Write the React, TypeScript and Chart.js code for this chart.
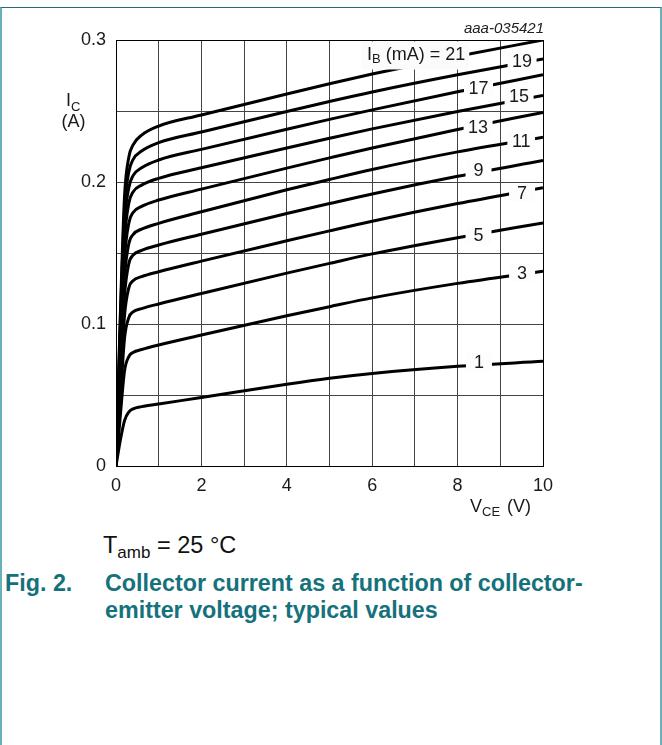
import React, { useEffect, useRef } from "react";
import { Chart, registerables } from "chart.js";

Chart.register(...registerables);

// ---- data ----
const VCE = [0, 0.1, 0.2, 0.3, 0.4, 0.6, 1, 2, 4, 5, 6, 8, 10];

const IC_IB1 = [0, 0.018, 0.032, 0.038, 0.0402, 0.0418, 0.0437, 0.0482, 0.0576, 0.0618, 0.0652, 0.0702, 0.0737];
const IC_IB3 = [0, 0.035, 0.067, 0.077, 0.08, 0.082, 0.0852, 0.0922, 0.1058, 0.1122, 0.1184, 0.1286, 0.1372];
const IC_IB5 = [0, 0.046, 0.09, 0.1045, 0.1085, 0.1108, 0.1141, 0.1215, 0.1358, 0.1427, 0.1494, 0.1608, 0.1712];
const IC_IB7 = [0, 0.055, 0.106, 0.1255, 0.1305, 0.1333, 0.1368, 0.1443, 0.1586, 0.1656, 0.1724, 0.1848, 0.196];
const IC_IB9 = [0, 0.062, 0.12, 0.1425, 0.1485, 0.1518, 0.1556, 0.1632, 0.1778, 0.1848, 0.1916, 0.204, 0.2152];
const IC_IB11 = [0, 0.07, 0.133, 0.1565, 0.163, 0.1668, 0.1709, 0.179, 0.1945, 0.2018, 0.2088, 0.2212, 0.2315];
const IC_IB13 = [0, 0.077, 0.146, 0.171, 0.1785, 0.1828, 0.1873, 0.195, 0.2098, 0.217, 0.224, 0.237, 0.249];
const IC_IB15 = [0, 0.085, 0.159, 0.185, 0.193, 0.1978, 0.2026, 0.21, 0.224, 0.2308, 0.2374, 0.2496, 0.261];
const IC_IB17 = [0, 0.093, 0.171, 0.196, 0.2045, 0.21, 0.2155, 0.223, 0.2372, 0.2441, 0.2508, 0.2635, 0.2755];
const IC_IB19 = [0, 0.1, 0.181, 0.207, 0.2158, 0.2218, 0.2277, 0.2352, 0.2497, 0.2567, 0.2634, 0.2755, 0.2866];
const IC_IB21 = [0, 0.105, 0.19, 0.2175, 0.2262, 0.233, 0.2394, 0.2472, 0.262, 0.2692, 0.276, 0.2885, 0.3];

const SERIES = [IC_IB1, IC_IB3, IC_IB5, IC_IB7, IC_IB9, IC_IB11, IC_IB13, IC_IB15, IC_IB17, IC_IB19, IC_IB21];
const SERIES_NAMES = ["1", "3", "5", "7", "9", "11", "13", "15", "17", "19", "21"];

// curve labels (text centre in data coordinates)
const LABEL_TEXT = ["1", "3", "5", "7", "9", "11", "13", "15", "17", "19"];
const LABEL_V = [8.5, 9.51, 8.49, 9.51, 8.49, 9.49, 8.48, 9.44, 8.49, 9.51];
const LABEL_I = [0.0732, 0.1359, 0.1627, 0.1923, 0.2085, 0.2289, 0.2387, 0.2606, 0.2662, 0.2852];
const IB_LABEL_V = 7.03;
const IB_LABEL_I = 0.2905;

const X_TICKS_SHOWN = [0, 2, 4, 6, 8, 10];
const Y_TICKS_SHOWN = [0, 0.1, 0.2, 0.3];

const FONT = '"Liberation Sans", Arial, Helvetica, sans-serif';
const TEAL = "#15717c";

const overlayPlugin = {
  id: "overlay",
  afterDatasetsDraw(chart: any) {
    const { ctx, scales, chartArea } = chart;
    const xs = scales.x;
    const ys = scales.y;
    ctx.save();
    // curve labels with white boxes
    ctx.font = `18px ${FONT}`;
    ctx.textAlign = "center";
    ctx.textBaseline = "middle";
    for (let i = 0; i < LABEL_TEXT.length; i++) {
      const cx = xs.getPixelForValue(LABEL_V[i]);
      const cy = ys.getPixelForValue(LABEL_I[i]);
      const w = Math.max(26, ctx.measureText(LABEL_TEXT[i]).width + 9);
      ctx.fillStyle = "#fdfdfd";
      ctx.fillRect(cx - w / 2, cy - 9, w, 18);
      ctx.fillStyle = "#1a1a1a";
      ctx.fillText(LABEL_TEXT[i], cx, cy + 1);
    }
    // I_B (mA) = 21 label
    {
      const cx = xs.getPixelForValue(IB_LABEL_V);
      const cy = ys.getPixelForValue(IB_LABEL_I);
      ctx.font = `18px ${FONT}`;
      const wI = ctx.measureText("I").width;
      const rest = " (mA) = 21";
      const wRest = ctx.measureText(rest).width;
      ctx.font = `13px ${FONT}`;
      const wB = ctx.measureText("B").width;
      const total = wI + wB + wRest;
      const x0 = cx - total / 2;
      ctx.fillStyle = "#fbfbfb";
      ctx.fillRect(x0 - 6, cy - 12, total + 10, 28);
      ctx.fillStyle = "#1a1a1a";
      ctx.textAlign = "left";
      ctx.textBaseline = "alphabetic";
      ctx.font = `18px ${FONT}`;
      ctx.fillText("I", x0, cy + 6.5);
      ctx.font = `13px ${FONT}`;
      ctx.fillText("B", x0 + wI, cy + 10);
      ctx.font = `18px ${FONT}`;
      ctx.fillText(rest, x0 + wI + wB, cy + 6.5);
    }
    // plot frame
    ctx.strokeStyle = "#000";
    ctx.lineWidth = 1;
    const l = Math.round(chartArea.left) + 0.5;
    const t = Math.round(chartArea.top) + 0.5;
    const r = Math.round(chartArea.right) + 0.5;
    const b = Math.round(chartArea.bottom) + 0.5;
    ctx.strokeRect(l, t, r - l, b - t);
    ctx.restore();
  },
  afterDraw(chart: any) {
    const { ctx, chartArea } = chart;
    ctx.save();
    ctx.fillStyle = "#1a1a1a";
    ctx.textBaseline = "alphabetic";
    ctx.textAlign = "left";
    // y title: I_C (A)
    ctx.font = `18px ${FONT}`;
    ctx.fillText("I", 66, 106);
    ctx.font = `13px ${FONT}`;
    ctx.fillText("C", 71, 111);
    ctx.font = `18px ${FONT}`;
    ctx.textAlign = "center";
    ctx.fillText("(A)", 73.5, 127);
    // x title: V_CE (V)
    ctx.textAlign = "left";
    ctx.font = `18px ${FONT}`;
    ctx.fillText("V", 470, 512);
    ctx.font = `13px ${FONT}`;
    ctx.fillText("CE", 482, 516);
    ctx.font = `18px ${FONT}`;
    ctx.fillText("(V)", 507, 512);
    // figure code
    ctx.font = `italic 15px ${FONT}`;
    ctx.textAlign = "right";
    ctx.fillStyle = "#222";
    ctx.fillText("aaa-035421", Math.round(chartArea.right) + 1, 33);
    ctx.restore();
  },
};

export default function App() {
  const canvasRef = useRef<HTMLCanvasElement | null>(null);

  useEffect(() => {
    const canvas = canvasRef.current;
    if (!canvas) return;
    Chart.defaults.font.family = FONT;
    const datasets = SERIES.map((vals, i) => ({
      label: `IB = ${SERIES_NAMES[i]} mA`,
      data: VCE.map((v, j) => ({ x: v, y: vals[j] })),
      borderColor: "#000",
      borderWidth: 3,
      pointRadius: 0,
      fill: false,
      cubicInterpolationMode: "monotone" as const,
    }));
    const chart = new Chart(canvas, {
      type: "line",
      data: { datasets },
      options: {
        animation: false,
        responsive: false,
        devicePixelRatio: 1,
        layout: { padding: { left: 0, right: 119, top: 40, bottom: 0 } },
        plugins: {
          legend: { display: false },
          tooltip: { enabled: false },
        },
        events: [],
        scales: {
          x: {
            type: "linear",
            min: 0,
            max: 10,
            afterFit: (scale: any) => {
              scale.height = 54;
            },
            ticks: {
              stepSize: 1,
              autoSkip: false,
              maxRotation: 0,
              padding: 9,
              color: "#1a1a1a",
              font: { size: 18, family: FONT },
              callback: (v: any) => (X_TICKS_SHOWN.includes(Number(v)) ? String(v) : ""),
            },
            grid: { color: "#444", lineWidth: 1, drawTicks: false },
            border: { display: true, color: "#000", width: 1 },
          },
          y: {
            type: "linear",
            min: 0,
            max: 0.3,
            afterFit: (scale: any) => {
              scale.width = 116;
            },
            ticks: {
              stepSize: 0.05,
              autoSkip: false,
              padding: 10,
              color: "#1a1a1a",
              font: { size: 18, family: FONT },
              callback: (v: any) => {
                const n = Math.round(Number(v) * 100) / 100;
                return Y_TICKS_SHOWN.includes(n) ? (n === 0 ? "0" : n.toFixed(1)) : "";
              },
            },
            grid: { color: "#444", lineWidth: 1, drawTicks: false },
            border: { display: true, color: "#000", width: 1 },
          },
        },
      },
      plugins: [overlayPlugin],
    });
    return () => chart.destroy();
  }, []);

  return (
    <div
      style={{
        position: "absolute",
        left: 0,
        top: 0,
        width: 662,
        height: 745,
        background: "#fff",
        overflow: "hidden",
        fontFamily: FONT,
      }}
    >
      <div
        style={{
          position: "absolute",
          left: 0,
          top: 7,
          width: 662,
          height: 800,
          boxSizing: "border-box",
          borderTop: "1px solid #1e6f7b",
          borderLeft: "2px solid #6cb0b7",
          borderRight: "2px solid #6cb0b7",
        }}
      />
      <canvas
        ref={canvasRef}
        width={662}
        height={520}
        style={{ position: "absolute", left: 0, top: 0, width: 662, height: 520 }}
      />
      <div
        style={{
          position: "absolute",
          left: 103,
          top: 534,
          fontSize: 23.5,
          lineHeight: "23px",
          color: "#111",
          whiteSpace: "nowrap",
        }}
      >
        T<span style={{ fontSize: 17, position: "relative", top: 5 }}>amb</span> = 25 °C
      </div>
      <div
        style={{
          position: "absolute",
          left: 5,
          top: 570,
          fontSize: 23.3,
          lineHeight: "27px",
          fontWeight: "bold",
          color: TEAL,
          whiteSpace: "nowrap",
        }}
      >
        Fig. 2.
      </div>
      <div
        style={{
          position: "absolute",
          left: 105,
          top: 570,
          fontSize: 23.3,
          lineHeight: "27px",
          fontWeight: "bold",
          color: TEAL,
          whiteSpace: "nowrap",
        }}
      >
        Collector current as a function of collector-
        <br />
        emitter voltage; typical values
      </div>
    </div>
  );
}
